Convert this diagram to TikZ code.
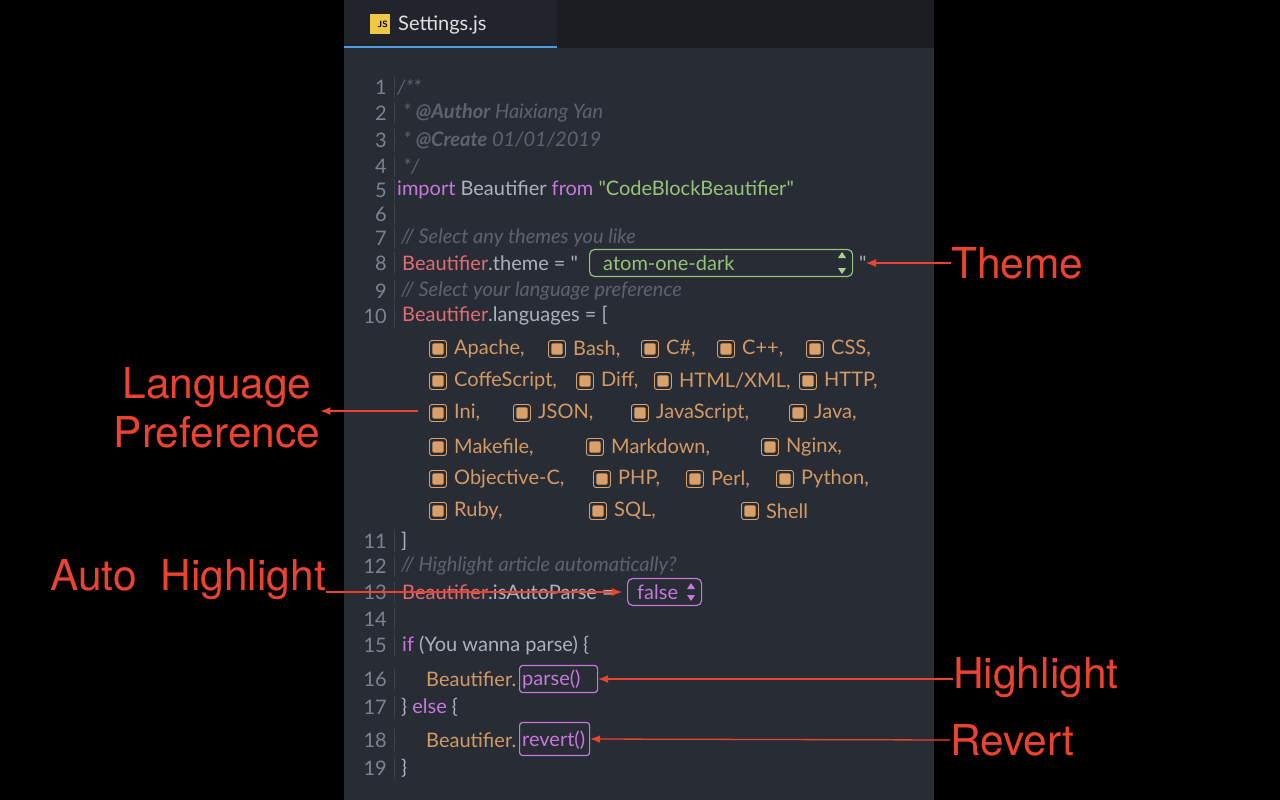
\documentclass[tikz,border=0pt]{standalone}
\usepackage{fontspec}
\setmainfont{Lato}[Ligatures=TeXOff]
\newfontfamily\annfont{TeX Gyre Heros}
\usetikzlibrary{arrows.meta}
\newcommand{\dq}{\symbol{34}}
\definecolor{bgc}{HTML}{282C34}
\definecolor{tabbar}{HTML}{1B1D22}
\definecolor{tabc}{HTML}{21252B}
\definecolor{cmt}{HTML}{5C6370}
\definecolor{pur}{HTML}{C678DD}
\definecolor{grn}{HTML}{98C379}
\definecolor{rd}{HTML}{E06C75}
\definecolor{org}{HTML}{D19A66}
\definecolor{txt}{HTML}{ABB2BF}
\definecolor{lnc}{HTML}{7D8490}
\definecolor{ann}{HTML}{EC4330}
\definecolor{chk}{HTML}{D9A06A}
\begin{document}
\begin{tikzpicture}[x=1pt,y=-1pt,
  code/.style={anchor=west,inner sep=0,font=\fontsize{20}{22}\selectfont,text=txt},
  cmtx/.style={code,text=cmt,font=\fontsize{20}{22}\selectfont\itshape},
  lnum/.style={anchor=east,inner sep=0,font=\fontsize{20}{22}\selectfont,text=lnc},
  annot/.style={anchor=west,inner sep=0,font=\annfont\fontsize{42.5}{50}\selectfont,text=ann,align=center},
  arr/.style={draw=ann,line width=1.3pt,-{Latex[length=10pt,width=8pt]}},
  cbox/.style={draw=chk,fill=bgc,rounded corners=2.5pt,minimum size=17pt,inner sep=0,line width=0.9pt,
     path picture={\fill[chk,rounded corners=1.5pt] ([shift={(2.8pt,2.8pt)}]path picture bounding box.south west) rectangle ([shift={(-2.8pt,-2.8pt)}]path picture bounding box.north east);}},
  sel/.style={draw,rounded corners=5pt,line width=1.2pt}]
\useasboundingbox (0,0) rectangle (1280,800);
\fill[black] (0,0) rectangle (1280,800);
\fill[bgc] (344,0) rectangle (934,800);
\fill[tabbar] (344,0) rectangle (934,48);
\fill[tabc] (344,0) rectangle (557,48);
\draw[color={rgb,255:red,77;green,158;blue,232},line width=1.5pt] (344,47) -- (557,47);
\node[fill={rgb,255:red,240;green,200;blue,70},minimum size=20pt,inner sep=0,anchor=north west,font=\sffamily\bfseries\fontsize{9}{9}\selectfont,text=black] (jsicon) at (370,14) {\raisebox{-4pt}{\hspace{5pt}JS}};
\node[code,text={rgb,255:red,220;green,223;blue,228}] (tabname) at (398,25) {Settings.js};
% line numbers
\foreach \n/\y in {1/87,2/113,3/140,4/166,5/190,6/214,7/238,8/263,9/291,10/316,11/541,12/566,13/592,14/619,15/645,16/679,17/707,18/740,19/768}{
  \node[lnum] (ln\n) at (387,\y) {\n};
  \draw[color={rgb,255:red,60;green,65;blue,74},line width=0.8pt] (394,\y-11) -- (394,\y+11);
}
\node[cmtx] (l1) at (397,87) {/**};
\node[cmtx] (l2) at (403,113) {* \textbf{@Author} Haixiang Yan};
\node[cmtx] (l3) at (403,140) {* \textbf{@Create} 01/01/2019};
\node[cmtx] (l4) at (403,166) {*/};
\node[code] (l5) at (397,190) {\textcolor{pur}{import} Beautifier \textcolor{pur}{from} \textcolor{grn}{\dq CodeBlockBeautifier\dq}};
\node[cmtx] (l7) at (401,238) {// Select any themes you like};
\node[code] (l8) at (402,263) {\textcolor{rd}{Beautifier}.theme = \dq};
\node[sel,draw=grn,minimum width=263pt,minimum height=27pt,anchor=west] (theme) at (589,263) {};
\node[code,text=grn] (themetxt) at (603,263) {atom-one-dark};
\fill[grn!80] (838,258) -- (846,258) -- (842,252) -- cycle (838,268) -- (846,268) -- (842,274) -- cycle;
\node[code] (q8) at (859,263) {\dq};
\node[cmtx] (l9) at (401,291) {// Select your language preference};
\node[code] (l10) at (402,316) {\textcolor{rd}{Beautifier}.languages = [};
% checkboxes
\foreach \nm/\x/\y/\t in {a/429/349/{Apache,},b/548/349/{Bash,},c/641/349/{C\#,},d/717/349/{C++,},e/806/349/{CSS,},
  f/429/381/{CoffeScript,},g/576/381/{Diff,},h/654/381/{HTML/XML,},i/799/381/{HTTP,},
  j/429/413/{Ini,},k/513/413/{JSON,},l/631/413/{JavaScript,},m/789/413/{Java,},
  n/429/447/{Makefile,},o/586/447/{Markdown,},p/761/447/{Nginx,},
  q/429/479/{Objective-C,},r/593/479/{PHP,},s/686/479/{Perl,},t/776/479/{Python,},
  u/429/511/{Ruby,},v/589/511/{SQL,},w/741/511/{Shell}}{
  \node[cbox,anchor=west] (cb\nm) at (\x,\y) {};
  \node[code,text=org] (ct\nm) at (\x+25,\y) {\t};
}
\node[code] (l11) at (401,541) {]};
\node[cmtx] (l12) at (401,566) {// Highlight article automatically?};
\node[code] (l13) at (402,592) {\textcolor{rd}{Beautifier}.isAutoParse =};
\node[sel,draw=pur,minimum width=74pt,minimum height=27pt,anchor=west] (falsebox) at (627,592) {};
\node[code,text=pur] (falsetxt) at (637,592) {false};
\fill[pur] (687,589) -- (695,589) -- (691,583) -- cycle (687,595) -- (695,595) -- (691,601) -- cycle;
\node[code] (l15) at (402,645) {\textcolor{pur}{if} (You wanna parse) \{};
\node[code,text=org] (l16) at (426,679) {Beautifier.};
\node[sel,draw=pur,rounded corners=3pt,minimum width=78pt,minimum height=27pt,anchor=west] (parsebox) at (519,679) {};
\node[code,text=pur] (parsetxt) at (522,679) {parse()};
\node[code] (l17) at (401,707) {\} \textcolor{pur}{else} \{};
\node[code,text=org] (l18) at (426,740) {Beautifier.};
\node[sel,draw=pur,rounded corners=3pt,minimum width=70pt,minimum height=33pt,anchor=west] (revertbox) at (519,739) {};
\node[code,text=pur] (reverttxt) at (522,740) {revert()};
\node[code] (l19) at (401,768) {\}};
% annotations
\node[annot] (atheme) at (951,263) {Theme};
\node[annot,anchor=center] (alang) at (217,408) {Language\\[-1pt]Preference};
\node[annot] (aauto) at (50,580) {Auto\hspace{12pt} Highlight};
\node[annot] (ahigh) at (953,678) {Highlight};
\node[annot] (arev) at (950,740) {Revert};
\coordinate (langstart) at (418,411);
\draw[arr] (atheme.west) -- (866,263);
\draw[arr] (langstart) -- (alang.east |- langstart);
\draw[arr] (aauto.east |- 0,592) -- (622,592);
\draw[arr] (ahigh.west |- 0,679) -- (parsebox.east);
\draw[arr] (arev.west) -- (revertbox.east);
\end{tikzpicture}
\end{document}
